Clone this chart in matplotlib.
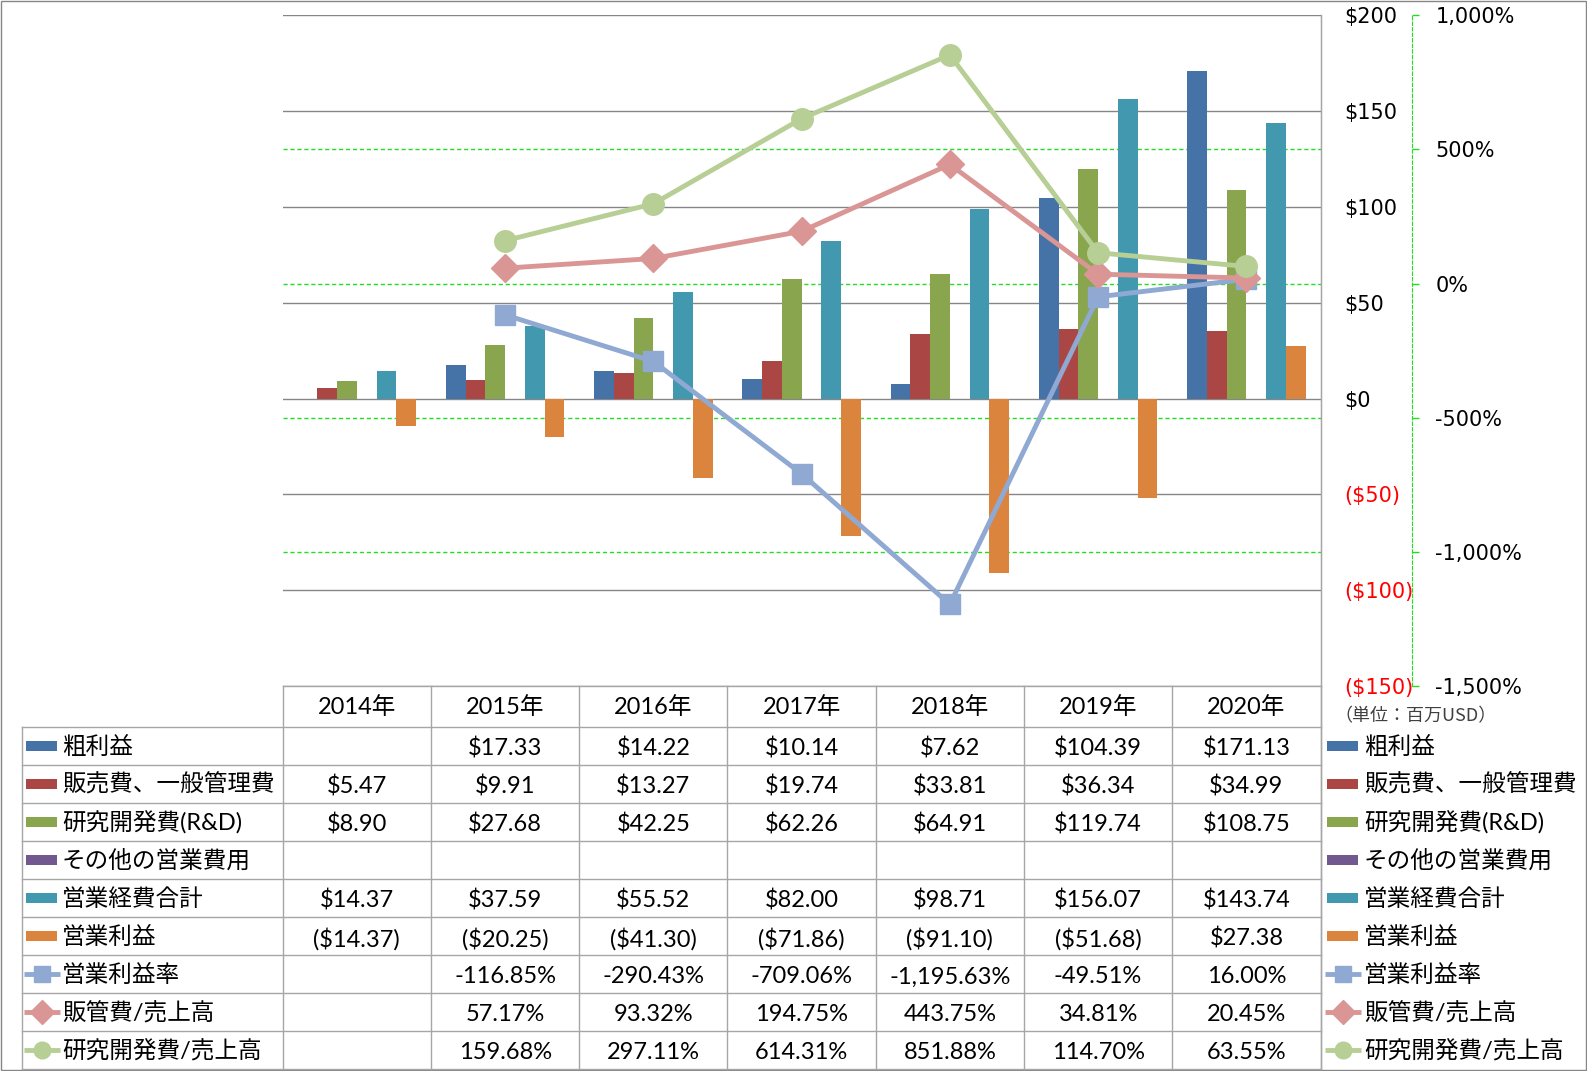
import numpy as np
import matplotlib.pyplot as plt
from matplotlib.transforms import blended_transform_factory

plt.rcParams['font.family'] = ['Lato', 'Noto Sans CJK JP']

W, H = 1587, 1071

# データ(単位:百万USD / %)
years = ['2014年', '2015年', '2016年', '2017年', '2018年', '2019年', '2020年']
gross_profit = [np.nan, 17.33, 14.22, 10.14, 7.62, 104.39, 171.13]
sga = [5.47, 9.91, 13.27, 19.74, 33.81, 36.34, 34.99]
rnd = [8.90, 27.68, 42.25, 62.26, 64.91, 119.74, 108.75]
other_opex = [np.nan] * 7
total_opex = [14.37, 37.59, 55.52, 82.00, 98.71, 156.07, 143.74]
op_income = [-14.37, -20.25, -41.30, -71.86, -91.10, -51.68, 27.38]

op_margin = [np.nan, -116.85, -290.43, -709.06, -1195.63, -49.51, 16.00]
sga_ratio = [np.nan, 57.17, 93.32, 194.75, 443.75, 34.81, 20.45]
rnd_ratio = [np.nan, 159.68, 297.11, 614.31, 851.88, 114.70, 63.55]

bar_names = ['粗利益', '販売費、一般管理費', '研究開発費(R&D)', 'その他の営業費用', '営業経費合計', '営業利益']
bar_series = [gross_profit, sga, rnd, other_opex, total_opex, op_income]
bar_colors = ['#4572A7', '#AA4643', '#89A54E', '#71588F', '#4198AF', '#DB843D']

line_names = ['営業利益率', '販管費/売上高', '研究開発費/売上高']
line_series = [op_margin, sga_ratio, rnd_ratio]
line_colors = ['#8FA9D3', '#D99694', '#B7CE95']
line_markers = ['s', 'D', 'o']
marker_sizes = [14, 14.5, 15.5]

left_ticks = [-150, -100, -50, 0, 50, 100, 150, 200]
right_ticks = [-1500, -1000, -500, 0, 500, 1000]

GRID = '#868686'
GREEN = '#22DD22'


def fmt_usd(v):
    if np.isnan(v):
        return ''
    return f'(${-v:,.2f})' if v < 0 else f'${v:,.2f}'


def fmt_pct(v):
    if np.isnan(v):
        return ''
    return f'{v:,.2f}%'


fig = plt.figure(figsize=(W / 100, H / 100), dpi=100)

# プロットエリア(ピクセル)
pl, pr, pt, pb = 282.7, 1320.5, 15.2, 686.0
ax = fig.add_axes([pl / W, 1 - pb / H, (pr - pl) / W, (pb - pt) / H])

n = len(years)
x = np.arange(n)
bw = 0.8 / 6
for k, (vals, col) in enumerate(zip(bar_series, bar_colors)):
    ax.bar(x - 0.4 + (k + 0.5) * bw, vals, bw, color=col, zorder=2)

ax.set_xlim(-0.5, n - 0.5)
ax.set_ylim(-150, 200)
ax.set_xticks([])
ax.yaxis.grid(True, color=GRID, lw=1)
ax.set_axisbelow(True)

# 第2軸
ax2 = ax.twinx()
ax2.set_xlim(-0.5, n - 0.5)
ax2.set_ylim(-1500, 1000)

# 主軸の目盛ラベルはプロットエリアの右側
ax.yaxis.tick_right()
ax.set_yticks(left_ticks, [f'(${-t})' if t < 0 else f'${t}' for t in left_ticks])
ax.tick_params(axis='y', length=0, pad=17.3, labelsize=15, labelfontfamily='DejaVu Sans')
for tick, t in zip(ax.yaxis.get_major_ticks(), left_ticks):
    tick.label2.set_color('red' if t < 0 else 'black')
for s in ['top', 'left', 'bottom']:
    ax.spines[s].set_visible(False)
ax.spines['right'].set_color(GRID)

ax2.set_yticks(right_ticks, [f'{t:,}%' for t in right_ticks])
ax2.tick_params(axis='y', length=5, width=1, color=GREEN, pad=11.5,
                labelsize=15, labelfontfamily='DejaVu Sans')
for tick, t in zip(ax2.yaxis.get_major_ticks(), right_ticks):
    tick.label2.set_color('red' if t < 0 else 'black')
for s in ['top', 'left', 'bottom']:
    ax2.spines[s].set_visible(False)
ax2.spines['right'].set_position(('outward', 66.2))
ax2.spines['right'].set_color(GREEN)
ax2.spines['right'].set_linestyle((0, (3, 2)))

# 第2軸の目盛線(棒の下)
bt = blended_transform_factory(ax.transAxes, ax2.transData)
for t in right_ticks[1:-1]:
    ax.plot([0, 1], [t, t], transform=bt, color=GREEN, lw=1, ls=(0, (3, 2)), zorder=1)

for vals, col, mk, ms in zip(line_series, line_colors, line_markers, marker_sizes):
    ax2.plot(x, vals, color=col, lw=3.5, marker=mk, ms=ms, mfc=col, mec=col, zorder=3)

# データテーブル
tb = fig.add_axes([0, 0, 1, 1], facecolor='none')
tb.set_xlim(0, W)
tb.set_ylim(H, 0)
tb.axis('off')

cols = pl + np.arange(n + 1) * (pr - pl) / n
head_top, head_bot = 686.0, 726.5
rh = (1069.0 - head_bot) / 9
rows = head_bot + np.arange(10) * rh
TB = '#A6A6A6'
lx = 21.7

tb.plot([pl, pr], [head_top, head_top], color=TB, lw=1)
for y in rows:
    tb.plot([lx, pr], [y, y], color=TB, lw=1)
tb.plot([lx, lx], [head_bot, rows[-1]], color=TB, lw=1)
for c in cols:
    tb.plot([c, c], [head_top, rows[-1]], color=TB, lw=1)
tb.plot([pr, pr], [pt, rows[-1]], color=TB, lw=1)

fs = 17
for i, yl in enumerate(years):
    tb.text((cols[i] + cols[i + 1]) / 2, (head_top + head_bot) / 2 + 1, yl,
            ha='center', va='center', fontsize=fs)

table_rows = [[fmt_usd(v) for v in s] for s in bar_series] + \
             [[fmt_pct(v) for v in s] for s in line_series]
row_names = bar_names + line_names
row_cols = bar_colors + line_colors

for r in range(9):
    yc = (rows[r] + rows[r + 1]) / 2
    for i in range(n):
        tb.text((cols[i] + cols[i + 1]) / 2, yc + 3, table_rows[r][i],
                ha='center', va='center', fontsize=fs)
    for x0, tx in [(26, 62), (1327, 1364)]:
        if r < 6:
            tb.add_patch(plt.Rectangle((x0, yc - 5), 31, 10, color=row_cols[r], lw=0))
        else:
            k = r - 6
            tb.plot([x0 - 2, x0 + 34], [yc, yc], color=row_cols[r], lw=3.5,
                    solid_capstyle='butt')
            tb.plot([x0 + 16], [yc], marker=line_markers[k], ms=12, color=row_cols[r])
        tb.text(tx, yc + 1, row_names[r], ha='left', va='center', fontsize=fs)

tb.text(1334, 716, '（単位：百万USD）', ha='left', va='center', fontsize=13,
        color='#404040', fontfamily='Noto Sans CJK JP')

# 外枠
tb.add_patch(plt.Rectangle((0.5, 0.5), W - 1.5, H - 1.5, fill=False, ec=GRID, lw=1))

fig.savefig('out.png', dpi=100)
